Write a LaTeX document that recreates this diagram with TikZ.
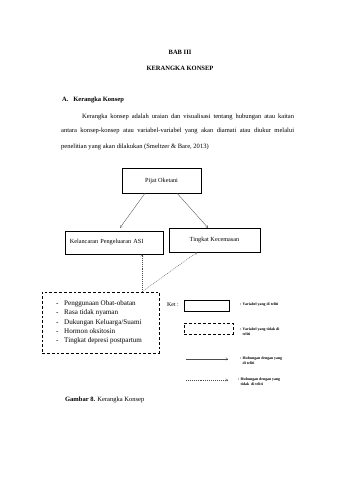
\documentclass[tikz,border=0pt]{standalone}
\usepackage{fontspec}
\setmainfont{Liberation Serif}
\usetikzlibrary{arrows.meta,calc}

\begin{document}
\begin{tikzpicture}[x=0.0619cm, y=-0.0619cm,
    box/.style={rectangle, draw, line width=0.7pt, font=\fontsize{11}{13}\selectfont},
    dashbox/.style={rectangle, draw, line width=0.9pt, dash pattern=on 5pt off 3.5pt},
    rel/.style={-{Straight Barb[length=3.5pt,width=4.5pt]}, draw=black!70, line width=0.6pt},
    relx/.style={rel, dash pattern=on 1.8pt off 1.6pt},
    body/.style={anchor=west, inner sep=0pt, font=\fontsize{11.5}{14}\selectfont},
    ket/.style={anchor=west, inner sep=0pt, align=left, font=\fontsize{6.8}{8}\selectfont\bfseries},
]
    % page
    \fill[white] (0,0) rectangle (339,480);
    \useasboundingbox (0,0) rectangle (339,480);

    % headings and text
    \node[font=\fontsize{11.5}{14}\selectfont\bfseries] (bab) at (180,52) {BAB III};
    \node[font=\fontsize{11.5}{14}\selectfont\bfseries] (judul) at (180,68) {KERANGKA KONSEP};
    \node[body, font=\fontsize{11.5}{14}\selectfont\bfseries] (subjudul) at (62,100) {A.\hspace{0.3cm}Kerangka Konsep};
    \node[body] (baris1) at (82,117) {\makebox[13.12cm][s]{Kerangka konsep adalah uraian dan visualisasi tentang hubungan atau kaitan}};
    \node[body] (baris2) at (61,131) {\makebox[14.42cm][s]{antara konsep-konsep atau variabel-variabel yang akan diamati atau diukur melalui}};
    \node[body] (baris3) at (61,147) {penelitian yang akan dilakukan (Smeltzer \& Bare, 2013)};

    % variables
    \node[box, minimum width=4.89cm, minimum height=1.55cm] (pijat) at (161.5,180.5) {Pijat Oketani};
    \node[box, minimum width=6.07cm, minimum height=1.42cm, inner xsep=0.3cm, text width=5.47cm, align=left] (asi) at (114,242.5) {Kelancaran Pengeluaran ASI};
    \node[box, minimum width=5.63cm, minimum height=1.49cm] (cemas) at (214.5,240) {Tingkat Kecemasan};

    % confounding factors
    \node[dashbox, minimum width=7.24cm, minimum height=3.78cm] (faktor) at (100.5,322.5) {};
    \node[anchor=west, inner sep=0pt, align=left, font=\fontsize{12.5}{16.3}\selectfont] (daftar) at (56,322.5) {%
        \makebox[0.5cm][l]{-}Penggunaan Obat-obatan\\
        \makebox[0.5cm][l]{-}Rasa tidak nyaman\\
        \makebox[0.5cm][l]{-}Dukungan Keluarga/Suami\\
        \makebox[0.5cm][l]{-}Hormon oksitosin\\
        \makebox[0.5cm][l]{-}Tingkat depresi postpartum};

    % relations
    \draw[rel] ($(pijat.south)+(-16.5,0)$) -- ($(asi.north)+(6,-3)$);
    \draw[rel] ($(pijat.south)+(15.5,0)$) -- ($(cemas.north)+(-6.5,0)$);
    \draw[relx] ($(faktor.north)+(41.5,0)$) -- ($(asi.south)+(28,0)$);
    \draw[relx] ($(faktor.north)+(41.5,0)$) -- ($(cemas.south)+(-17.5,0)$);

    % legend
    \node[anchor=west, inner sep=0pt, font=\fontsize{10.5}{13}\selectfont] (ket) at (167,305) {Ket :};
    \node[box, minimum width=2.79cm, minimum height=0.68cm] (ketbox) at (206.5,305.5) {};
    \node[dashbox, minimum width=3.03cm, minimum height=0.68cm] (ketdash) at (208.5,328.5) {};
    \coordinate (ra) at (186,359);
    \coordinate (rb) at (228,359);
    \coordinate (rxa) at (186,380);
    \coordinate (rxb) at (228,380);
    \draw[rel] (ra) -- (rb);
    \draw[relx] (rxa) -- (rxb);
    \node[ket] (ketbox-lbl) at (240,305) {: Variabel yang di teliti};
    \node[ket] (ketdash-lbl) at (240,331.5) {: Variabel yang tidak di\\\phantom{: }teliti};
    \node[ket] (rel-lbl) at (240,360.5) {: Hubungan dengan yang\\\phantom{: }di teliti};
    \node[ket] (relx-lbl) at (238,381.5) {: Hubungan dengan yang\\\phantom{: }tidak\ \ di teliti};

    % caption
    \node[body] (caption) at (65,400) {\textbf{Gambar 8.} Kerangka Konsep};
\end{tikzpicture}
\end{document}
